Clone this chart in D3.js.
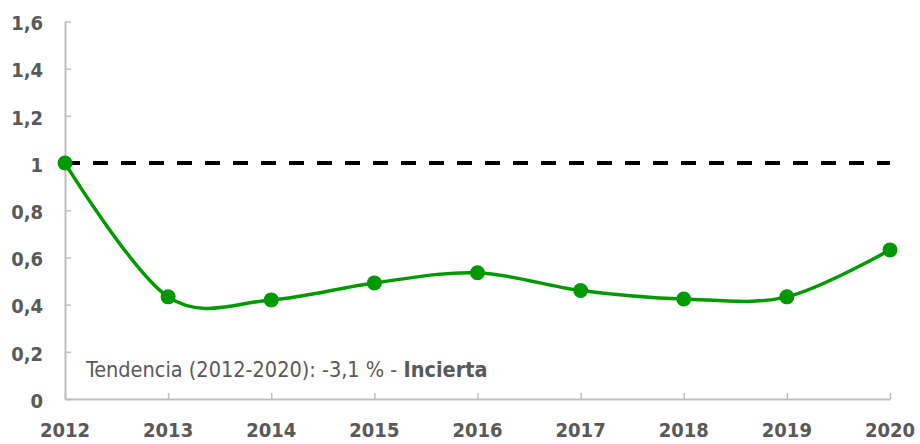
<!DOCTYPE html>
<html>
<head>
<meta charset="utf-8">
<script src="https://cdn.jsdelivr.net/npm/d3@7"></script>
<style>
  body { margin: 0; background: #fff; }
  svg { display: block; }
</style>
</head>
<body>
<div id="chart"></div>
<script>
const years = [2012, 2013, 2014, 2015, 2016, 2017, 2018, 2019, 2020]
const values = [1.0, 0.433, 0.42, 0.492, 0.535, 0.46, 0.424, 0.433, 0.632]
const yTicks = [0, 0.2, 0.4, 0.6, 0.8, 1, 1.2, 1.4, 1.6]
const refValue = 1
const trendText = "Tendencia (2012-2020): -3,1 % - "
const trendLabel = "Incierta"

const width = 920
const height = 444
const plotLeft = 65
const plotRight = 890
const plotTop = 21.5
const plotBottom = 399
const textColor = "#595959"
const axisColor = "#bfbfbf"
const green = "#009a00"
const font = "'DejaVu Sans Condensed', 'DejaVu Sans', sans-serif"

const svg = d3.select("#chart").append("svg")
  .attr("width", width).attr("height", height)

const x = d3.scalePoint().domain(years).range([plotLeft, plotRight])
const y = d3.scaleLinear().domain([0, 1.6]).range([plotBottom, plotTop])

const fmt = (d) => String(d).replace(".", ",")

// y axis, ticks pointing into the plot
const yAxis = svg.append("g")
  .attr("transform", `translate(${plotLeft},0)`)
  .call(d3.axisRight(y).tickValues(yTicks).tickSize(6).tickFormat(""))
yAxis.select(".domain").attr("stroke", axisColor).attr("stroke-width", 2)
  .attr("d", `M0.5,${y(1.6)}V${plotBottom}`)
yAxis.selectAll(".tick line").attr("stroke", axisColor).attr("stroke-width", 1.5)

svg.append("g").selectAll("text")
  .data(yTicks)
  .join("text")
  .attr("x", 43)
  .attr("y", (d) => y(d) + 1.5)
  .attr("dy", "0.36em")
  .attr("text-anchor", "end")
  .attr("font-family", font)
  .attr("font-weight", "bold")
  .attr("font-size", 20)
  .attr("fill", textColor)
  .text(fmt)

// x axis
const xAxis = svg.append("g")
  .attr("transform", `translate(0,${plotBottom})`)
  .call(d3.axisTop(x).tickSize(6).tickFormat("").tickSizeOuter(0))
xAxis.select(".domain").attr("stroke", axisColor).attr("stroke-width", 2)
xAxis.selectAll(".tick line").attr("stroke", axisColor).attr("stroke-width", 1.5)

svg.append("g").selectAll("text")
  .data(years)
  .join("text")
  .attr("x", (d) => x(d))
  .attr("y", 429.5)
  .attr("dy", "0.36em")
  .attr("text-anchor", "middle")
  .attr("font-family", font)
  .attr("font-weight", "bold")
  .attr("font-size", 20)
  .attr("fill", textColor)
  .text((d) => d)

// reference line at 1
svg.append("line")
  .attr("x1", x(years[0])).attr("x2", x(years[years.length - 1]))
  .attr("y1", y(refValue)).attr("y2", y(refValue))
  .attr("stroke", "#000")
  .attr("stroke-width", 4)
  .attr("stroke-dasharray", "15,13")

// series
const pts = years.map((d, i) => ({ year: d, value: values[i] }))
const line = d3.line()
  .x((d) => x(d.year))
  .y((d) => y(d.value))
  .curve(d3.curveCardinal.tension(0))

svg.append("path")
  .datum(pts)
  .attr("d", line)
  .attr("fill", "none")
  .attr("stroke", green)
  .attr("stroke-width", 3.5)

svg.append("g").selectAll("circle")
  .data(pts)
  .join("circle")
  .attr("cx", (d) => x(d.year))
  .attr("cy", (d) => y(d.value))
  .attr("r", 7.5)
  .attr("fill", green)

// trend note
const note = svg.append("text")
  .attr("x", 86)
  .attr("y", 377)
  .attr("font-family", font)
  .attr("font-size", 21.5)
  .attr("fill", textColor)
note.append("tspan").text(trendText)
note.append("tspan").attr("font-weight", "bold").text(trendLabel)
</script>
</body>
</html>
